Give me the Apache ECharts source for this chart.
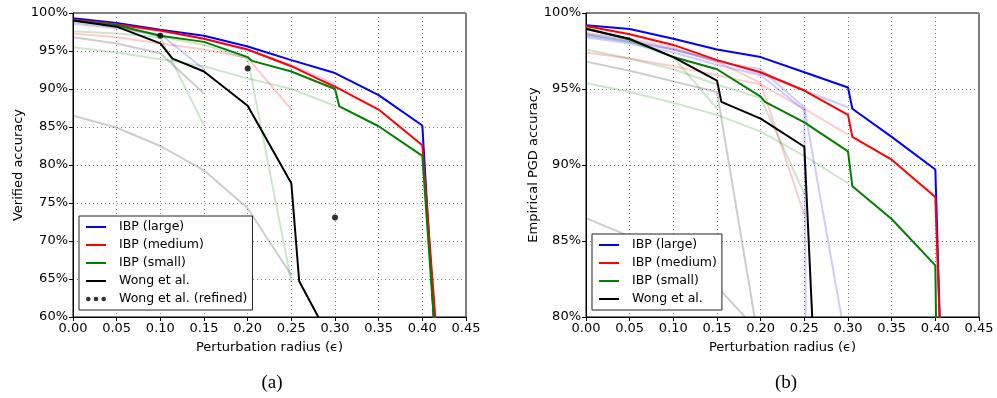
<!DOCTYPE html>
<html><head><meta charset="utf-8">
<script src="https://cdn.jsdelivr.net/npm/echarts@6/dist/echarts.min.js"></script>
<style>html,body{margin:0;padding:0;background:#fff}#c{width:997px;height:398px}</style>
</head><body><div id="c"></div>
<script>
// ---------- axis ticks ----------
const xTicks = [0, 0.05, 0.1, 0.15, 0.2, 0.25, 0.3, 0.35, 0.4, 0.45];
const yTicksA = [60, 65, 70, 75, 80, 85, 90, 95, 100];
const yTicksB = [80, 85, 90, 95, 100];

// ---------- (a) Verified accuracy ----------
const aLargeEps = [0, 0.05, 0.1, 0.15, 0.2, 0.25, 0.3, 0.35, 0.4, 0.42];
const aLarge    = [99.3, 98.7, 97.8, 97.0, 95.6, 93.8, 92.1, 89.2, 85.2, 46.4];
const aMedEps   = [0, 0.05, 0.1, 0.15, 0.2, 0.25, 0.283, 0.3, 0.35, 0.4, 0.42];
const aMed      = [99.1, 98.5, 97.7, 96.6, 95.2, 93.0, 91.2, 90.3, 87.3, 82.6, 52.1];
const aSmallEps = [0, 0.05, 0.1, 0.15, 0.2, 0.205, 0.25, 0.3, 0.305, 0.35, 0.4, 0.42];
const aSmall    = [99.0, 98.4, 97.0, 96.2, 94.2, 93.7, 92.3, 90.0, 87.7, 85.1, 81.2, 48.6];
const aWongEps  = [0, 0.05, 0.1, 0.114, 0.15, 0.2, 0.25, 0.259, 0.3];
const aWong     = [99.0, 98.2, 96.0, 94.0, 92.3, 87.8, 77.6, 64.7, 55.9];
const aRefEps   = [0.1, 0.2, 0.3];
const aRef      = [97.0, 92.7, 73.1];
// faint curves (a)
const aGrey1Eps = [0, 0.05, 0.1, 0.15];
const aGrey1    = [96.8, 96.0, 94.7, 89.4];
const aGrey2Eps = [0, 0.05, 0.1, 0.15, 0.2, 0.25];
const aGrey2    = [86.5, 84.9, 82.5, 79.3, 74.3, 65.5];
const aLtGreen1Eps = [0, 0.05, 0.1, 0.15];
const aLtGreen1    = [97.6, 97.3, 96.8, 85.2];
const aLtGreen2Eps = [0, 0.05, 0.1, 0.15, 0.2, 0.25, 0.3];
const aLtGreen2    = [95.5, 94.8, 93.9, 93.0, 91.4, 90.0, 87.8];
const aLtGreen3Eps = [0, 0.05, 0.1, 0.15, 0.2, 0.25];
const aLtGreen3    = [98.8, 98.2, 96.9, 95.8, 94.0, 64.6];
const aLtRed1Eps = [0, 0.05, 0.1, 0.15, 0.2, 0.25];
const aLtRed1    = [97.3, 96.8, 96.0, 95.2, 94.1, 87.3];
const aLtBlue1Eps = [0, 0.05, 0.1, 0.15];
const aLtBlue1    = [98.6, 98.0, 97.2, 92.6];
const aLtBlue2Eps = [0, 0.05, 0.1, 0.15, 0.2, 0.25, 0.3];
const aLtBlue2    = [99.0, 98.5, 97.6, 96.6, 95.1, 93.2, 90.6];

// ---------- (b) Empirical PGD accuracy ----------
const bLargeEps = [0, 0.05, 0.1, 0.15, 0.2, 0.25, 0.3, 0.305, 0.35, 0.4, 0.406];
const bLarge    = [99.2, 98.95, 98.3, 97.6, 97.1, 96.1, 95.1, 93.7, 91.85, 89.7, 78];
const bMedEps   = [0, 0.05, 0.1, 0.15, 0.2, 0.25, 0.3, 0.305, 0.35, 0.4, 0.406];
const bMed      = [99.15, 98.6, 97.9, 96.9, 96.1, 94.9, 93.3, 91.85, 90.35, 87.9, 78];
const bSmallEps = [0, 0.05, 0.1, 0.15, 0.2, 0.205, 0.25, 0.3, 0.305, 0.35, 0.4, 0.401];
const bSmall    = [99.0, 98.25, 97.1, 96.3, 94.5, 94.15, 92.8, 90.9, 88.6, 86.45, 83.4, 79];
const bWongEps  = [0, 0.05, 0.1, 0.15, 0.155, 0.2, 0.25, 0.26];
const bWong     = [98.95, 98.3, 97.1, 95.55, 94.15, 93.05, 91.2, 78.8];
// faint curves (b)
const bGrey1Eps = [0, 0.05, 0.1, 0.15, 0.2];
const bGrey1    = [96.8, 96.2, 95.5, 94.8, 77.6];
const bGrey2Eps = [0, 0.05, 0.1, 0.15, 0.2];
const bGrey2    = [86.5, 85.3, 83.8, 82.0, 78.9];
const bLtGreen1Eps = [0, 0.05, 0.1, 0.15];
const bLtGreen1    = [98.6, 98.1, 97.1, 93.7];
const bLtGreen2Eps = [0, 0.05, 0.1, 0.15, 0.2, 0.25];
const bLtGreen2    = [97.6, 97.0, 96.3, 95.3, 94.4, 88.1];
const bLtGreen3Eps = [0, 0.05, 0.1, 0.15, 0.2, 0.25, 0.3];
const bLtGreen3    = [95.4, 94.8, 94.1, 93.3, 92.2, 90.6, 88.8];
const bLtRed1Eps = [0, 0.05, 0.1, 0.15, 0.2, 0.25, 0.3];
const bLtRed1    = [97.4, 97.0, 96.5, 95.9, 95.3, 93.7, 92.0];
const bLtRed2Eps = [0, 0.05, 0.1, 0.15, 0.2, 0.25];
const bLtRed2    = [98.7, 98.3, 97.7, 96.8, 95.4, 86.7];
const bLtBlue1Eps = [0, 0.05, 0.1, 0.15, 0.2, 0.25, 0.252];
const bLtBlue1    = [98.4, 98.0, 97.4, 96.6, 95.9, 93.6, 75];
const bLtBlue2Eps = [0, 0.05, 0.1, 0.15, 0.2, 0.25, 0.3];
const bLtBlue2    = [98.6, 98.2, 97.6, 96.8, 96.3, 93.8, 77.6];
const bLtBlue3Eps = [0, 0.05, 0.1, 0.15, 0.2, 0.25, 0.3];
const bLtBlue3    = [98.5, 98.1, 97.6, 96.9, 96.0, 94.9, 93.8];

// ---------- build ----------
const FONT = 'DejaVu Sans';
const C = {large:'#0000ff', medium:'#ff0000', small:'#008000', wong:'#000000'};
const F = {blue:'rgba(0,0,255,0.2)', red:'rgba(255,0,0,0.2)', green:'rgba(0,128,0,0.2)', grey:'rgba(0,0,0,0.2)'};
function pairs(eps, vals){ return eps.map((e,i)=>[e, vals[i]]); }
function line(name, eps, vals, color, idx, z){
  return {name:name, type:'line', xAxisIndex:idx, yAxisIndex:idx, data:pairs(eps, vals),
    symbol:'none', clip:true, z:z, color:color,
    lineStyle:{color:color, width:2}, emphasis:{disabled:true}};
}
const series = [
  line('fa1', aGrey1Eps, aGrey1, F.grey, 0, 1),
  line('fa2', aGrey2Eps, aGrey2, F.grey, 0, 1),
  line('fa3', aLtGreen1Eps, aLtGreen1, F.green, 0, 1),
  line('fa4', aLtGreen2Eps, aLtGreen2, F.green, 0, 1),
  line('fa5', aLtGreen3Eps, aLtGreen3, F.green, 0, 1),
  line('fa6', aLtRed1Eps, aLtRed1, F.red, 0, 1),
  line('fa7', aLtBlue1Eps, aLtBlue1, F.blue, 0, 1),
  line('fa8', aLtBlue2Eps, aLtBlue2, F.blue, 0, 1),
  line('IBP (large)', aLargeEps, aLarge, C.large, 0, 5),
  line('IBP (medium)', aMedEps, aMed, C.medium, 0, 5),
  line('IBP (small)', aSmallEps, aSmall, C.small, 0, 5),
  line('Wong et al.', aWongEps, aWong, C.wong, 0, 5),
  {name:'Wong et al. (refined)', type:'scatter', xAxisIndex:0, yAxisIndex:0, data:pairs(aRefEps, aRef),
    symbol:'circle', symbolSize:6, itemStyle:{color:'#000'}, z:6, color:'#000'},
  line('fb1', bGrey1Eps, bGrey1, F.grey, 1, 1),
  line('fb2', bGrey2Eps, bGrey2, F.grey, 1, 1),
  line('fb3', bLtGreen1Eps, bLtGreen1, F.green, 1, 1),
  line('fb4', bLtGreen2Eps, bLtGreen2, F.green, 1, 1),
  line('fb5', bLtGreen3Eps, bLtGreen3, F.green, 1, 1),
  line('fb6', bLtRed1Eps, bLtRed1, F.red, 1, 1),
  line('fb7', bLtRed2Eps, bLtRed2, F.red, 1, 1),
  line('fb8', bLtBlue1Eps, bLtBlue1, F.blue, 1, 1),
  line('fb9', bLtBlue2Eps, bLtBlue2, F.blue, 1, 1),
  line('fb10', bLtBlue3Eps, bLtBlue3, F.blue, 1, 1),
  line('IBP (large)', bLargeEps, bLarge, C.large, 1, 5),
  line('IBP (medium)', bMedEps, bMed, C.medium, 1, 5),
  line('IBP (small)', bSmallEps, bSmall, C.small, 1, 5),
  line('Wong et al.', bWongEps, bWong, C.wong, 1, 5)
];

function xAxis(idx){
  return {type:'value', gridIndex:idx, min:xTicks[0], max:xTicks[xTicks.length-1], interval:0.05,
    name:'Perturbation radius (ϵ)', nameLocation:'middle', nameGap:24,
    nameTextStyle:{fontFamily:FONT, fontSize:13, color:'#000'},
    axisLine:{show:true, lineStyle:{color:'#000', width:1}},
    axisTick:{show:true, inside:false, length:4, lineStyle:{color:'#000'}},
    axisLabel:{fontFamily:FONT, fontSize:13, color:'#000', margin:5, formatter:v=>v.toFixed(2)},
    splitLine:{show:true, lineStyle:{color:'#808080', type:[1,3], width:1}}};
}
function yAxis(idx, ticks, name, gap){
  return {type:'value', gridIndex:idx, min:ticks[0], max:ticks[ticks.length-1], interval:5,
    name:name, nameLocation:'middle', nameGap:gap, nameRotate:90,
    nameTextStyle:{fontFamily:FONT, fontSize:13, color:'#000'},
    axisLine:{show:true, lineStyle:{color:'#000', width:1}},
    axisTick:{show:true, inside:false, length:4, lineStyle:{color:'#000'}},
    axisLabel:{fontFamily:FONT, fontSize:13, color:'#000', margin:5, formatter:'{value}%'},
    splitLine:{show:true, lineStyle:{color:'#808080', type:[1,3], width:1}}};
}
const lineIcon = 'path://M0 0H20V2H0Z';
const dotsIcon = 'path://M0 2a2.3 2.3 0 1 0 4.6 0a2.3 2.3 0 1 0 -4.6 0M7.7 2a2.3 2.3 0 1 0 4.6 0a2.3 2.3 0 1 0 -4.6 0M15.4 2a2.3 2.3 0 1 0 4.6 0a2.3 2.3 0 1 0 -4.6 0Z';
function legend(left, top, names){
  return {orient:'vertical', left:left, top:top, itemWidth:20, itemHeight:14, itemGap:4,
    padding:[4,5,4,7], backgroundColor:'#fff', borderColor:'#222', borderWidth:1,
    selectedMode:false,
    textStyle:{fontFamily:FONT, fontSize:12.5, color:'#000', padding:[0,0,0,8], lineHeight:14},
    data:names.map(n=>({name:n, icon: n==='Wong et al. (refined)' ? dotsIcon : lineIcon}))};
}

const chart = echarts.init(document.getElementById('c'), null, {renderer:'canvas'});
chart.setOption({
  animation:false,
  backgroundColor:'#fff',
  title:[
    {text:'(a)', left:267, top:369, textAlign:'center', textStyle:{fontFamily:'Liberation Serif', fontSize:19, fontWeight:'normal', color:'#000'}},
    {text:'(b)', left:781, top:369, textAlign:'center', textStyle:{fontFamily:'Liberation Serif', fontSize:19, fontWeight:'normal', color:'#000'}}
  ],
  grid:[
    {left:73, top:13, width:393, height:304, show:true, borderColor:'#000', borderWidth:1, backgroundColor:'transparent'},
    {left:586, top:13, width:393, height:304, show:true, borderColor:'#000', borderWidth:1, backgroundColor:'transparent'}
  ],
  xAxis:[xAxis(0), xAxis(1)],
  yAxis:[yAxis(0, yTicksA, 'Verified accuracy', 48), yAxis(1, yTicksB, 'Empirical PGD accuracy', 38)],
  legend:[
    legend(79, 216, ['IBP (large)', 'IBP (medium)', 'IBP (small)', 'Wong et al.', 'Wong et al. (refined)']),
    legend(592, 234, ['IBP (large)', 'IBP (medium)', 'IBP (small)', 'Wong et al.'])
  ],
  series:series
});
</script>
</body></html>
